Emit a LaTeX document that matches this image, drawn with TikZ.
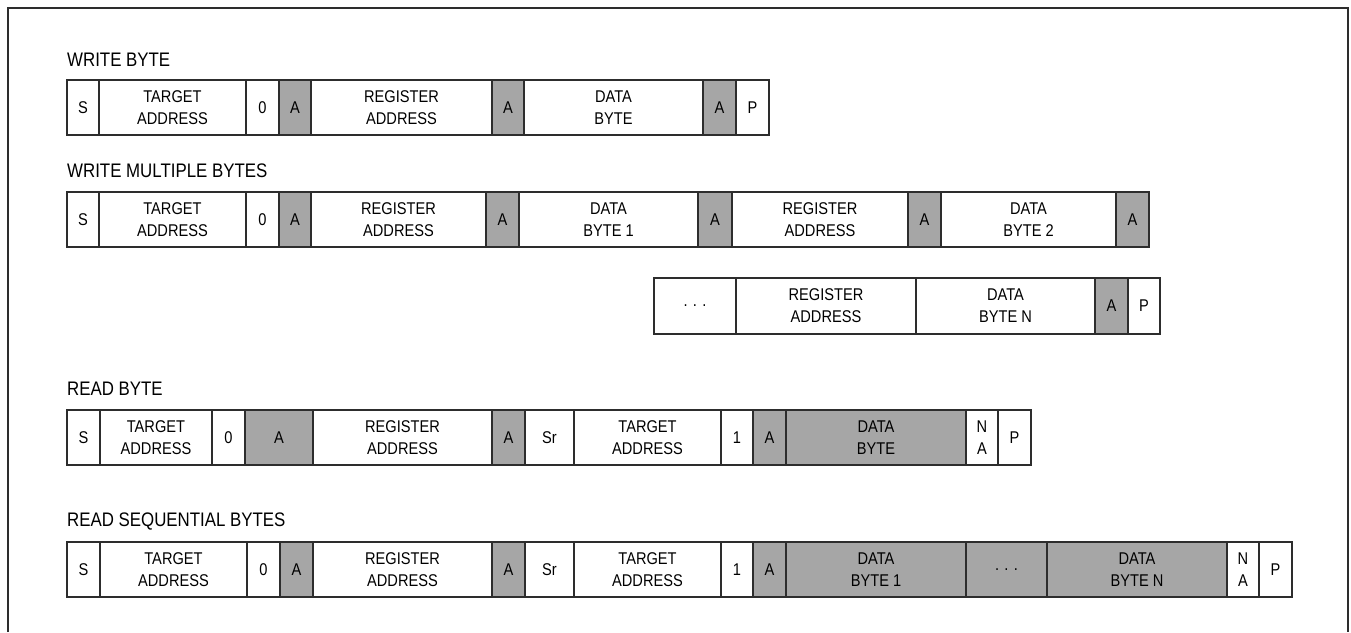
\documentclass[tikz,border=0pt]{standalone}
\usepackage{fontspec}
\setmainfont[FakeStretch=0.86]{Liberation Sans}
\usetikzlibrary{positioning}
\definecolor{ackgray}{RGB}{166,166,166}
\definecolor{linegray}{RGB}{45,45,45}

\begin{document}
\begin{tikzpicture}[
	x=1pt, y=-1pt,
	node distance = 0pt and 0pt,
	box/.style = {rectangle, draw=linegray, line width=1.1pt, fill=#1,
		inner sep=0pt, outer sep=0pt, minimum height=55pt, align=center,
		font=\fontsize{17}{22}\selectfont},
	box/.default = white,
	wd/.style = {minimum width=#1pt},
	title/.style = {anchor=west, inner sep=0pt, font=\fontsize{19.6}{22}\selectfont}
	]
	\useasboundingbox (0,0) rectangle (1351,632);
	\draw[linegray, line width=1.1pt] (8,632) -- (8,8) -- (1348,8) -- (1348,632);
	
	% write byte
	\node (t1) [title] at (67,60) {WRITE BYTE};
	\node (wb1) [box, wd=32, anchor=north west] at (67,80) {S};
	\node (wb2) [box, wd=147, right=of wb1] {TARGET\\ADDRESS};
	\node (wb3) [box, wd=33, right=of wb2] {0};
	\node (wb4) [box=ackgray, wd=32, right=of wb3] {A};
	\node (wb5) [box, wd=181, right=of wb4] {REGISTER\\ADDRESS};
	\node (wb6) [box=ackgray, wd=32, right=of wb5] {A};
	\node (wb7) [box, wd=179, right=of wb6] {DATA\\BYTE};
	\node (wb8) [box=ackgray, wd=33, right=of wb7] {A};
	\node (wb9) [box, wd=33, right=of wb8] {P};
	
	% write multiple bytes
	\node (t2) [title] at (67,171) {WRITE MULTIPLE BYTES};
	\node (wm1) [box, wd=32, anchor=north west] at (67,192) {S};
	\node (wm2) [box, wd=147, right=of wm1] {TARGET\\ADDRESS};
	\node (wm3) [box, wd=33, right=of wm2] {0};
	\node (wm4) [box=ackgray, wd=32, right=of wm3] {A};
	\node (wm5) [box, wd=175, right=of wm4] {REGISTER\\ADDRESS};
	\node (wm6) [box=ackgray, wd=33, right=of wm5] {A};
	\node (wm7) [box, wd=179, right=of wm6] {DATA\\BYTE 1};
	\node (wm8) [box=ackgray, wd=34, right=of wm7] {A};
	\node (wm9) [box, wd=176, right=of wm8] {REGISTER\\ADDRESS};
	\node (wm10) [box=ackgray, wd=33, right=of wm9] {A};
	\node (wm11) [box, wd=175, right=of wm10] {DATA\\BYTE 2};
	\node (wm12) [box=ackgray, wd=33, right=of wm11] {A};
	%
	\node (wn1) [box, wd=82, minimum height=56pt, anchor=north west] at (654,278) {. . .};
	\node (wn2) [box, wd=180, minimum height=56pt, right=of wn1] {REGISTER\\ADDRESS};
	\node (wn3) [box, wd=179, minimum height=56pt, right=of wn2] {DATA\\BYTE N};
	\node (wn4) [box=ackgray, wd=33, minimum height=56pt, right=of wn3] {A};
	\node (wn5) [box, wd=32, minimum height=56pt, right=of wn4] {P};
	
	% read byte
	\node (t3) [title] at (67,389) {READ BYTE};
	\node (rb1) [box, wd=33, anchor=north west] at (67,410) {S};
	\node (rb2) [box, wd=112, right=of rb1] {TARGET\\ADDRESS};
	\node (rb3) [box, wd=33, right=of rb2] {0};
	\node (rb4) [box=ackgray, wd=68, right=of rb3] {A};
	\node (rb5) [box, wd=179, right=of rb4] {REGISTER\\ADDRESS};
	\node (rb6) [box=ackgray, wd=33, right=of rb5] {A};
	\node (rb7) [box, wd=49, right=of rb6] {Sr};
	\node (rb8) [box, wd=147, right=of rb7] {TARGET\\ADDRESS};
	\node (rb9) [box, wd=32, right=of rb8] {1};
	\node (rb10) [box=ackgray, wd=33, right=of rb9] {A};
	\node (rb11) [box=ackgray, wd=180, right=of rb10] {DATA\\BYTE};
	\node (rb12) [box, wd=32, right=of rb11] {N\\A};
	\node (rb13) [box, wd=33, right=of rb12] {P};
	
	% read sequential bytes
	\node (t4) [title] at (67,521) {READ SEQUENTIAL BYTES};
	\node (rs1) [box, wd=33, anchor=north west] at (67,542) {S};
	\node (rs2) [box, wd=147, right=of rs1] {TARGET\\ADDRESS};
	\node (rs3) [box, wd=33, right=of rs2] {0};
	\node (rs4) [box=ackgray, wd=33, right=of rs3] {A};
	\node (rs5) [box, wd=179, right=of rs4] {REGISTER\\ADDRESS};
	\node (rs6) [box=ackgray, wd=33, right=of rs5] {A};
	\node (rs7) [box, wd=49, right=of rs6] {Sr};
	\node (rs8) [box, wd=147, right=of rs7] {TARGET\\ADDRESS};
	\node (rs9) [box, wd=32, right=of rs8] {1};
	\node (rs10) [box=ackgray, wd=33, right=of rs9] {A};
	\node (rs11) [box=ackgray, wd=180, right=of rs10] {DATA\\BYTE 1};
	\node (rs12) [box=ackgray, wd=81, right=of rs11] {. . .};
	\node (rs13) [box=ackgray, wd=180, right=of rs12] {DATA\\BYTE N};
	\node (rs14) [box, wd=32, right=of rs13] {N\\A};
	\node (rs15) [box, wd=33, right=of rs14] {P};
\end{tikzpicture}
\end{document}
